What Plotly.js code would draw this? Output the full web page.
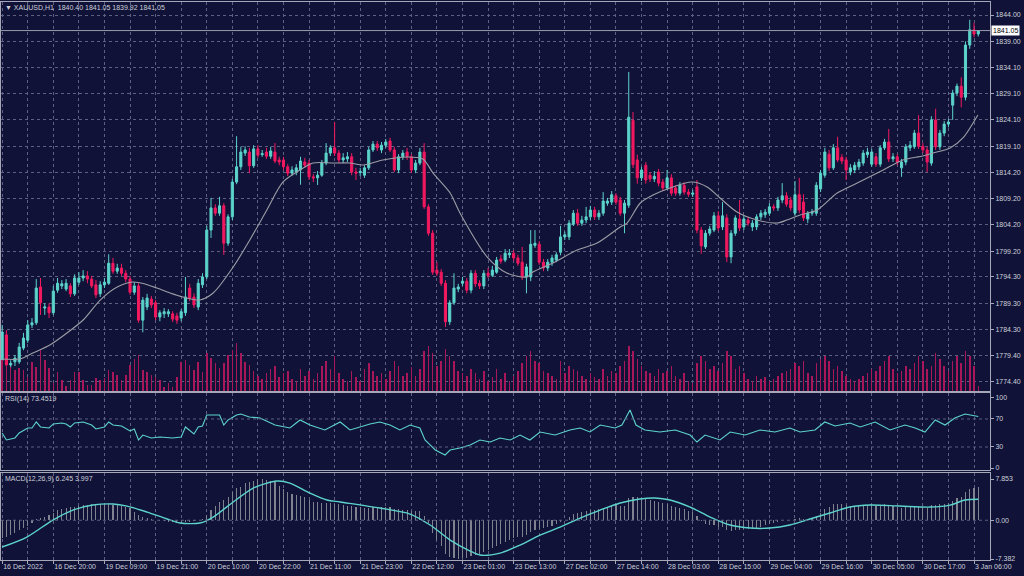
<!DOCTYPE html>
<html><head><meta charset="utf-8">
<script src="https://cdn.plot.ly/plotly-3.0.1.min.js"></script>
<style>html,body{margin:0;padding:0;background:#101238;}#chart{width:1024px;height:576px;}</style>
</head><body><div id="chart"></div>
<script>
const symbolName = "XAUUSD,H1";
const xLabels = ["16 Dec 2022","16 Dec 20:00","19 Dec 09:00","19 Dec 21:00","20 Dec 10:00","20 Dec 22:00","21 Dec 11:00","21 Dec 23:00","22 Dec 12:00","23 Dec 01:00","23 Dec 13:00","27 Dec 02:00","27 Dec 14:00","28 Dec 03:00","28 Dec 15:00","29 Dec 04:00","29 Dec 16:00","30 Dec 05:00","30 Dec 17:00","3 Jan 06:00"];
const barsPerLabel = 12;

const open = [
1778.5,1783.3,1777.6,1778.2,1778.2,1780.8,1782.3,1785.2,1785.6,1792.4,
1788.4,1788.6,1787.5,1791.8,1792.6,1792.0,1792.6,1791.1,1793.3,1794.1,
1794.5,1793.9,1792.8,1791.1,1792.8,1793.1,1796.9,1795.4,1796.0,1795.0,
1793.9,1791.4,1792.6,1786.1,1788.6,1790.1,1789.4,1786.7,1787.3,1787.3,
1787.3,1786.9,1786.5,1787.5,1792.2,1790.5,1788.6,1792.8,1794.3,1803.2,
1807.4,1806.4,1807.8,1800.7,1805.7,1812.3,1815.2,1817.8,1818.0,1815.4,
1818.6,1817.5,1818.0,1817.2,1818.0,1816.5,1816.5,1815.2,1814.0,1814.2,
1814.6,1816.1,1815.9,1813.3,1813.1,1813.6,1815.9,1817.8,1818.8,1817.8,
1816.5,1816.7,1817.1,1814.2,1814.1,1813.6,1815.0,1818.4,1819.5,1818.4,
1819.3,1820.1,1818.4,1814.6,1817.1,1818.0,1817.1,1814.6,1815.9,1818.0,
1807.6,1802.6,1795.6,1795.2,1793.1,1785.8,1789.4,1792.0,1793.1,1793.5,
1791.8,1795.0,1793.1,1792.6,1795.0,1794.6,1795.2,1797.7,1797.5,1798.5,
1798.8,1797.9,1797.1,1794.3,1794.3,1800.3,1800.5,1797.1,1796.0,1797.1,
1797.5,1799.0,1801.9,1801.9,1804.3,1806.4,1804.5,1805.1,1805.7,1807.0,
1805.7,1806.4,1808.3,1808.5,1809.7,1808.9,1806.4,1807.9,1824.0,1816.5,
1813.1,1815.5,1813.6,1812.9,1814.2,1812.3,1811.2,1813.1,1811.2,1810.2,
1811.7,1810.4,1810.0,1811.4,1803.2,1800.0,1802.6,1803.2,1805.9,1803.8,
1805.5,1798.1,1802.6,1805.3,1803.8,1805.1,1803.8,1803.8,1805.7,1806.1,
1806.4,1807.6,1807.4,1808.9,1809.7,1808.9,1806.4,1809.9,1808.5,1805.3,
1806.4,1806.4,1811.0,1813.6,1817.6,1815.0,1818.8,1817.0,1816.5,1814.2,
1814.6,1815.2,1815.9,1817.5,1815.7,1817.1,1815.7,1818.8,1819.9,1816.7,
1817.1,1815.0,1816.1,1818.8,1819.0,1821.6,1819.1,1818.4,1815.9,1824.1,
1819.0,1821.6,1823.3,1826.9,1829.2,1830.5,1828.4,1838.3,1841.2,1840.40];
const high = [
1785.2,1784.2,1778.5,1779.5,1781.8,1783.7,1786.1,1786.5,1793.9,1794.1,
1789.3,1789.3,1792.6,1794.1,1793.7,1793.9,1793.1,1794.8,1795.2,1795.6,
1795.4,1794.5,1793.7,1793.5,1794.1,1798.6,1797.9,1796.8,1796.8,1795.6,
1794.5,1793.3,1793.1,1790.5,1791.1,1790.7,1789.9,1788.0,1788.4,1788.2,
1787.8,1787.5,1788.2,1794.3,1793.0,1791.2,1793.9,1795.0,1804.0,1809.3,
1808.1,1809.5,1808.3,1806.2,1812.9,1821.0,1819.0,1819.1,1818.8,1819.3,
1819.3,1818.4,1818.8,1819.0,1819.7,1817.1,1817.1,1815.7,1815.3,1815.7,
1817.1,1816.9,1816.5,1813.8,1814.4,1816.5,1819.7,1819.3,1823.7,1818.4,
1817.8,1818.0,1817.8,1815.0,1815.0,1815.5,1819.0,1820.1,1820.1,1819.9,
1820.5,1820.7,1819.0,1817.6,1818.4,1818.8,1817.6,1816.5,1818.8,1819.7,
1808.1,1803.2,1797.1,1795.8,1793.7,1789.9,1795.0,1793.0,1794.3,1794.1,
1795.6,1795.6,1793.7,1795.6,1796.0,1796.4,1798.1,1798.5,1799.6,1799.6,
1799.4,1798.5,1800.0,1796.8,1803.2,1803.2,1801.1,1797.7,1797.7,1798.5,
1799.0,1804.0,1802.9,1805.1,1807.0,1807.2,1805.9,1807.6,1807.8,1807.6,
1807.0,1810.4,1809.3,1810.6,1810.2,1809.5,1808.9,1833.2,1825.6,1817.5,
1815.2,1816.1,1814.2,1814.4,1814.8,1812.9,1814.6,1813.8,1811.7,1812.3,
1812.3,1811.0,1810.8,1812.7,1803.8,1803.2,1804.0,1806.6,1806.8,1808.5,
1806.2,1803.2,1806.0,1808.9,1805.9,1805.7,1805.1,1806.2,1807.0,1807.2,
1808.3,1808.1,1809.5,1812.1,1810.4,1809.5,1812.5,1813.1,1810.0,1806.8,
1807.2,1812.3,1814.6,1818.8,1818.4,1819.5,1820.9,1817.6,1817.1,1815.7,
1816.1,1816.7,1818.4,1818.8,1818.6,1817.8,1819.3,1820.5,1822.4,1817.8,
1817.6,1816.7,1819.5,1820.1,1822.2,1825.0,1819.7,1819.0,1824.8,1826.2,
1822.2,1823.9,1824.3,1829.8,1831.0,1832.2,1839.0,1843.1,1842.5,1841.05];
const low = [
1778.2,1777.2,1777.0,1777.4,1777.8,1780.4,1781.8,1784.6,1785.2,1787.1,
1787.1,1786.5,1787.1,1791.3,1792.0,1791.6,1790.5,1790.7,1792.8,1793.5,
1793.1,1792.2,1790.3,1790.5,1792.2,1792.8,1794.9,1794.9,1794.5,1793.3,
1790.9,1790.9,1785.6,1783.8,1788.0,1788.4,1786.1,1785.9,1786.5,1786.7,
1785.75,1785.4,1785.9,1786.9,1789.7,1788.4,1788.0,1792.2,1793.9,1801.7,
1805.9,1805.9,1798.5,1800.2,1805.1,1811.9,1814.6,1817.25,1814.0,1815.0,
1816.9,1817.1,1816.7,1816.7,1815.9,1815.5,1814.6,1813.45,1813.5,1813.6,
1811.8,1815.0,1812.7,1812.3,1811.75,1813.3,1815.5,1817.25,1817.25,1815.9,
1815.9,1816.1,1813.6,1812.7,1813.45,1813.1,1814.6,1818.0,1818.2,1817.8,
1818.8,1818.0,1814.2,1814.0,1816.5,1816.5,1814.0,1814.0,1815.5,1807.2,
1802.1,1794.7,1794.5,1792.6,1784.8,1785.2,1789.0,1791.4,1792.6,1791.2,
1791.2,1792.4,1792.0,1792.0,1794.1,1794.3,1794.9,1796.8,1797.1,1797.9,
1797.3,1796.4,1793.7,1791.2,1793.5,1799.8,1796.6,1795.4,1795.4,1796.4,
1797.1,1798.4,1801.3,1801.3,1803.97,1804.0,1804.0,1804.5,1805.1,1805.1,
1805.1,1805.9,1807.8,1807.95,1808.0,1805.9,1802.6,1807.4,1814.97,1812.0,
1812.5,1812.0,1812.3,1812.3,1811.5,1810.6,1810.8,1809.7,1809.7,1809.7,
1809.9,1809.5,1809.5,1802.6,1798.7,1799.6,1802.1,1802.8,1803.0,1803.2,
1797.1,1796.9,1802.1,1803.0,1803.2,1804.0,1803.0,1803.2,1805.1,1805.5,
1805.9,1806.8,1806.8,1808.3,1807.6,1806.8,1805.9,1806.4,1804.9,1804.5,
1805.9,1805.9,1810.4,1813.1,1814.4,1814.6,1816.1,1815.7,1812.7,1813.6,
1814.0,1814.6,1815.4,1816.9,1815.2,1815.2,1815.2,1818.4,1816.1,1816.1,
1815.5,1813.3,1815.5,1818.2,1818.6,1818.6,1817.8,1814.2,1815.4,1818.4,
1818.4,1821.0,1822.7,1824.1,1828.6,1826.5,1827.8,1837.6,1839.8,1839.92];
const close = [
1783.85,1777.6,1777.9,1778.9,1781.0,1782.7,1785.2,1785.6,1792.2,1789.4,
1788.6,1787.5,1791.6,1793.1,1793.0,1793.1,1791.1,1794.1,1794.1,1794.5,
1793.9,1792.6,1790.9,1792.8,1793.3,1796.9,1795.4,1796.0,1795.0,1793.9,
1791.4,1792.6,1786.1,1789.9,1790.3,1789.0,1786.7,1787.5,1787.7,1787.7,
1786.3,1786.1,1787.7,1790.5,1790.3,1789.0,1793.1,1794.3,1803.2,1807.4,
1806.4,1807.8,1800.7,1805.7,1812.3,1815.2,1818.0,1818.4,1815.4,1818.6,
1817.4,1817.7,1817.2,1818.2,1816.3,1816.1,1815.2,1814.0,1814.6,1815.0,
1816.3,1815.5,1813.3,1813.1,1813.6,1815.9,1817.8,1818.8,1817.8,1816.5,
1816.9,1817.1,1814.2,1814.0,1814.3,1815.0,1818.4,1819.5,1818.8,1819.3,
1819.9,1818.4,1814.6,1817.1,1817.8,1817.1,1814.6,1815.9,1818.0,1807.6,
1802.6,1795.2,1795.0,1793.1,1785.8,1789.4,1792.2,1792.4,1793.5,1791.8,
1795.0,1793.0,1792.6,1795.0,1794.6,1795.6,1797.5,1797.3,1798.8,1798.8,
1797.9,1796.9,1794.3,1796.2,1800.5,1800.7,1797.1,1796.0,1797.1,1797.9,
1798.5,1801.9,1802.3,1804.5,1806.4,1804.5,1805.1,1805.7,1807.0,1805.7,
1806.4,1808.7,1808.7,1809.9,1808.5,1806.4,1808.3,1824.6,1815.6,1813.1,
1814.6,1812.7,1812.9,1813.4,1812.1,1811.2,1813.1,1810.2,1810.2,1811.7,
1810.4,1810.0,1810.2,1803.2,1800.2,1802.6,1803.4,1805.9,1803.6,1805.9,
1798.1,1802.6,1805.5,1803.6,1805.3,1804.5,1804.5,1805.7,1806.4,1806.6,
1807.6,1807.4,1808.9,1809.7,1808.1,1807.4,1809.9,1807.0,1805.5,1806.4,
1806.6,1811.7,1814.0,1818.0,1815.0,1818.8,1816.5,1816.3,1814.6,1815.0,
1815.5,1816.1,1817.8,1818.0,1818.0,1815.7,1818.8,1819.9,1816.7,1817.1,
1816.1,1816.1,1819.0,1819.3,1821.6,1819.1,1818.4,1816.1,1824.1,1819.0,
1821.6,1823.3,1823.7,1829.2,1830.5,1828.4,1838.3,1841.2,1840.4,1841.05];
const tickVolume = [
3100,2600,2400,2100,2300,2100,1400,2900,2400,4100,
3100,2300,800,1900,1100,500,1100,1900,1900,1100,
600,600,1300,1100,1300,2100,1900,1600,1100,1600,
2600,3200,3600,2100,1900,1600,1400,1100,400,800,
400,1400,2900,3100,2600,2100,2900,1900,3800,3300,
2800,2300,2800,3600,4100,4800,3800,2900,2600,2000,
1500,1200,1800,2200,2500,1400,1800,2000,1200,1000,
2200,1500,2000,1200,1800,2500,3000,2200,3500,1800,
1200,1000,2000,1400,1000,2200,2800,2000,1500,1800,
1200,2000,3000,2500,1500,1800,2400,1500,2200,4000,
4500,3800,2500,3000,4200,3500,3000,2000,1800,1500,
2200,1800,1200,2000,1000,1400,2200,1200,1800,1000,
1500,2000,2800,3500,4000,3000,2800,2000,1800,1500,
1200,3000,1800,2500,2200,2000,1500,1200,1800,1400,
1200,2200,1500,2000,1800,2500,3000,4500,4000,3200,
2500,2000,1800,1500,2200,1800,2000,2500,1500,1200,
1800,1000,800,2800,3500,3000,2200,2500,2000,2800,
4000,3500,2200,2500,1800,1200,1000,1500,1200,1400,
1000,1200,1500,1800,2000,2200,2800,2500,3000,1800,
1500,2800,3200,3500,3000,2200,2500,2000,1500,1200,
1000,1200,1500,1800,2200,2000,2500,3000,3500,2200,
1800,2000,2500,2200,2800,3500,3000,2200,2500,3800,
3200,2500,2000,3000,3500,2800,4000,3500,2500,500];

const maBar = [0,4.2,7.2,11.2,15.2,19.0,23.0,27.0,30.7,33.5,36.3,39.4,42.4,46.4,49.5,54.2,58.1,62.1,65.9,69.9,72.9,77.6,81.6,84.7,89.3,95.0,98.7,101.1,105.1,107.4,113.8,118.4,123.1,124.5,129.2,134.9,139.6,145.0,146.6,149.7,152.7,156.7,161.8,165.4,168.4,172.4,177.1,181.8,184.1,187.2,191.2,195.9,200.6,206.7,211.3,216.0,218.4,222.4,225.4,228.9];
const maValue = [1778.73,1778.73,1779.87,1781.39,1783.66,1786.13,1789.92,1792.39,1793.34,1792.96,1792.20,1791.25,1790.49,1789.92,1791.25,1796.19,1801.31,1807.0,1812.32,1814.59,1815.92,1815.92,1815.92,1815.54,1816.49,1817.06,1816.68,1814.0,1810.23,1806.43,1798.08,1795.05,1794.29,1795.24,1796.94,1799.41,1800.74,1803.78,1804.53,1808.33,1809.85,1811.18,1812.32,1811.37,1809.28,1806.62,1805.10,1804.53,1805.10,1806.05,1807.0,1810.23,1812.13,1814.59,1816.49,1817.25,1817.82,1818.77,1820.67,1825.03];

const rsiBar = [0,1,2,3,4,6,7,8,9,11,12,14,15,16,17,19,21,22,24,25,26,28,30,31,32,33,35,37,40,42,43,45,46,47,48,51,52,53,55,56,58,60.5,64,67.5,69.9,72.2,75.7,79.3,81.6,84,86.3,88.6,91,93.3,95.7,98,99.2,100.4,101.6,103.9,105.1,107.4,109.8,112.1,114.5,116.8,119.2,121.5,123.8,126.2,129.7,133.2,135.6,137.9,140.3,143.8,145.4,147.3,148.7,150.8,154.3,157.9,161.4,163,164.9,168.4,170.8,174.3,177.8,181.3,184.8,187.2,190.7,193,195.4,198.9,201.3,204.8,208.3,211.8,214.2,216.5,218.9,221.2,223.5,225.9,229];
const rsiValue = [50,40,41.4,42.9,50,57.1,57.1,65.7,58.6,57.1,62.9,64.3,62.9,58.6,64.3,65.7,61.4,55.7,58.6,65.7,61.4,60,52.9,55.7,40,47.1,42.9,44.3,42.9,44.3,58.6,48.6,58.6,60,75.7,75.7,61.4,68.6,75.7,77.1,72.9,71.4,61.4,57.1,68.6,61.4,54.3,65.7,54.3,58.6,62.9,65.7,61.4,54.3,61.4,57.1,40,32.9,25.7,18.6,25.7,28.6,32.9,40,37.1,42.9,40,47.1,40,51.4,47.1,54.3,57.1,51.4,61.4,57.1,61.4,82.9,61.4,54.3,51.4,54.3,47.1,37.1,47.1,40,51.4,47.1,54.3,51.4,57.1,51.4,54.3,65.7,60,64.3,58.6,65.7,54.3,61.4,57.1,51.4,68.6,61.4,71.4,77.1,73.4519];

const macdMain = [
-3.45,-3.13,-2.82,-2.5,-1.87,-1.55,-1.1,-0.6,0.17,0.36,
0.67,0.99,1.31,1.94,2.1,2.26,2.45,2.57,2.7,2.89,
2.89,3.0,3.02,3.02,3.02,3.02,2.95,2.89,2.75,2.57,
2.26,1.65,0.99,0.67,0.36,0.17,0.0,-0.1,-0.2,-0.3,
-0.4,-0.5,-0.5,-0.4,-0.3,-0.2,0.0,0.3,0.99,2.0,
2.8,3.5,3.84,4.47,5.4,6.07,6.4,7.0,7.2,7.52,
7.78,7.853,7.7,7.52,7.2,6.5,5.9,5.3,5.0,4.8,
4.6,4.4,3.9,3.4,3.4,3.3,3.3,3.2,3.0,3.0,
2.9,2.8,2.7,2.6,2.5,2.4,2.4,2.5,2.5,2.5,
2.5,2.5,2.2,2.1,2.0,2.0,1.8,1.7,1.8,0.8,
-0.6,-2.5,-3.8,-4.9,-6.4,-7.0,-7.2,-7.382,-7.2,-7.1,
-6.8,-6.6,-6.4,-6.0,-5.7,-5.3,-4.9,-4.5,-4.1,-3.7,
-3.4,-3.2,-3.2,-2.9,-2.2,-1.8,-1.6,-1.5,-1.3,-1.1,
-0.8,-0.3,0.1,0.6,1.1,1.3,1.5,1.7,1.9,2.0,
2.1,2.4,2.6,2.8,2.9,2.8,2.8,4.2,4.5,4.4,
4.3,4.1,3.9,3.7,3.5,3.2,3.1,2.8,2.5,2.3,
2.1,1.8,1.6,0.8,-0.2,-0.7,-1.0,-1.0,-1.2,-1.2,
-1.9,-2.0,-1.8,-1.8,-1.7,-1.6,-1.6,-1.4,-1.2,-1.0,
-0.8,-0.6,-0.3,0.0,0.1,0.1,0.3,0.4,0.2,0.2,
0.2,0.8,1.4,2.2,2.5,3.0,3.1,3.1,2.9,2.8,
2.7,2.7,2.8,2.9,2.9,2.8,2.9,3.0,2.9,2.7,
2.6,2.4,2.5,2.5,2.7,2.7,2.6,2.3,2.9,2.9,
3.0,3.1,3.2,3.7,4.2,4.4,5.3,6.0,6.2,6.245];
const signalBar = [0,5.8,11.9,16.6,21.3,26.0,29.3,34.0,38.7,41.7,46.4,49.5,54.2,58.9,64.5,67.5,72.2,76.2,79.3,88.6,95.7,100.4,105.1,109.8,112.1,116.8,121.5,126.2,130.9,135.6,140.3,145.0,149.6,153.2,156.7,161.4,166.1,170.8,175.5,180.1,184.8,189.5,194.2,198.9,203.6,210.6,217.7,222.4,225.9,229];
const signalValue = [-5.10,-3.20,0.04,1.94,2.89,3.09,2.70,1.56,0.23,-0.53,-0.53,0.61,3.47,6.13,7.46,7.08,5.18,3.85,3.47,2.32,1.18,-0.91,-3.77,-5.87,-6.63,-6.25,-4.73,-2.83,-1.30,0.42,1.94,3.28,4.04,4.23,3.85,2.51,0.61,-0.91,-1.49,-1.49,-0.91,0.23,1.37,2.51,2.89,2.70,2.51,2.89,3.85,3.997];

const priceTicks = [1844.00,1839.00,1834.10,1829.10,1824.10,1819.10,1814.20,1809.20,1804.20,1799.20,1794.30,1789.30,1784.30,1779.40,1774.40];
const rsiTicks = [100,70,30,0];
const rsiLevels = [70,30];
const macdTicks = [7.853,0,-7.382];
const bidPrice = 1841.05;

const C_UP = '#5cd4cb', C_DN = '#f2195f', C_BG = '#101238', C_GRID = '#5d6080', C_TXT = '#cdd0d8', C_LINE = '#a6a8b8';
const FONT = {family:'"Liberation Sans", Arial, sans-serif', size:7, color:C_TXT};

const n = close.length;
const bars = close.map((_, i) => i);
const last = n - 1;

const gridBars = [], gridText = [];
for (let k = 0; k <= (xLabels.length - 1) * 2; k++) {
  gridBars.push(k * barsPerLabel / 2);
  gridText.push(k % 2 === 0 ? xLabels[k / 2] : '');
}

const traces = [
  {type:'bar', x:bars, y:tickVolume, xaxis:'x', yaxis:'y4', marker:{color:'#a8175a', line:{width:0}}, width:0.36, hoverinfo:'skip'},
  {type:'candlestick', x:bars, open:open, high:high, low:low, close:close, xaxis:'x', yaxis:'y',
   increasing:{line:{color:C_UP, width:1}, fillcolor:C_UP},
   decreasing:{line:{color:C_DN, width:1}, fillcolor:C_DN}, whiskerwidth:0, hoverinfo:'skip'},
  {type:'scatter', mode:'lines', x:maBar, y:maValue, xaxis:'x', yaxis:'y', line:{color:'#9d9da6', width:1.1, shape:'spline', smoothing:0.8}, hoverinfo:'skip'},
  {type:'scatter', mode:'lines', x:rsiBar, y:rsiValue, xaxis:'x2', yaxis:'y2', line:{color:C_UP, width:1.1}, hoverinfo:'skip'},
  {type:'bar', x:bars, y:macdMain, xaxis:'x3', yaxis:'y3', marker:{color:'#80828f', line:{width:0}}, width:0.26, hoverinfo:'skip'},
  {type:'scatter', mode:'lines', x:signalBar, y:signalValue, xaxis:'x3', yaxis:'y3', line:{color:C_UP, width:1.4, shape:'spline', smoothing:0.8}, hoverinfo:'skip'}
];

const xr = [-0.27, 231.75];
const xbase = {range:xr, tickmode:'array', tickvals:gridBars, ticktext:gridText, showgrid:true, gridcolor:C_GRID, griddash:'dot', gridwidth:1,
  showline:true, mirror:true, linecolor:C_LINE, linewidth:1, zeroline:false, fixedrange:true};
const ybase = {side:'right', showline:true, mirror:true, linecolor:C_LINE, linewidth:1, zeroline:false, ticks:'outside', ticklen:3, tickcolor:C_LINE,
  tickfont:FONT, gridcolor:C_GRID, griddash:'dot', gridwidth:1, fixedrange:true};

const P = y => (560 - y) / 558;
const layout = {
  width:1024, height:576, paper_bgcolor:C_BG, plot_bgcolor:C_BG, showlegend:false, bargap:0,
  margin:{l:1, r:34, t:2, b:16}, font:FONT,
  xaxis: Object.assign({}, xbase, {anchor:'y', showticklabels:false, rangeslider:{visible:false}}),
  xaxis2: Object.assign({}, xbase, {anchor:'y2', matches:'x', showticklabels:false}),
  xaxis3: Object.assign({}, xbase, {anchor:'y3', matches:'x', showticklabels:true, tickfont:FONT, ticks:'outside', ticklen:3, tickcolor:C_LINE, ticklabelposition:'outside right'}),
  yaxis: Object.assign({}, ybase, {domain:[P(391), 1], range:[1772.66, 1846.47], tickmode:'array', tickvals:priceTicks, ticktext:priceTicks.map(v => v.toFixed(2)), showgrid:true}),
  yaxis4: {overlaying:'y', range:[0, 38900], visible:false, fixedrange:true},
  yaxis2: Object.assign({}, ybase, {domain:[P(470), P(393)], range:[-2.86, 107.1], tickmode:'array', tickvals:rsiTicks, ticktext:rsiTicks.map(String), showgrid:false}),
  yaxis3: Object.assign({}, ybase, {domain:[0, P(473)], range:[-7.572, 8.996], tickmode:'array', tickvals:macdTicks, ticktext:macdTicks.map(v => v === 0 ? '0.00' : String(v)), showgrid:false}),
  shapes: [
    ...rsiLevels.map(v => ({type:'line', xref:'x2 domain', yref:'y2', x0:0, x1:1, y0:v, y1:v, line:{color:C_GRID, width:1, dash:'dot'}})),
    {type:'line', xref:'x3 domain', yref:'y3', x0:0, x1:1, y0:0, y1:0, line:{color:C_GRID, width:1, dash:'dot'}},
    {type:'line', xref:'x domain', yref:'y', x0:0, x1:1, y0:bidPrice, y1:bidPrice, line:{color:'#9a9cab', width:1}}
  ],
  annotations: [
    {xref:'paper', yref:'paper', x:0.002, y:P(7), xanchor:'left', yanchor:'middle', showarrow:false, font:FONT,
     text:'▼ ' + symbolName + '  ' + open[last].toFixed(2) + ' ' + high[last].toFixed(2) + ' ' + low[last].toFixed(2) + ' ' + close[last].toFixed(2)},
    {xref:'paper', yref:'paper', x:0.002, y:P(399), xanchor:'left', yanchor:'middle', showarrow:false, font:FONT,
     text:'RSI(14) ' + rsiValue[rsiValue.length - 1].toFixed(4)},
    {xref:'paper', yref:'paper', x:0.002, y:P(479), xanchor:'left', yanchor:'middle', showarrow:false, font:FONT,
     text:'MACD(12,26,9) ' + macdMain[last].toFixed(3) + ' ' + signalValue[signalValue.length - 1].toFixed(3)},
    {xref:'paper', yref:'y', x:1, xshift:1, y:bidPrice, xanchor:'left', yanchor:'middle', showarrow:false,
     font:{family:FONT.family, size:7, color:'#000000'}, bgcolor:'#ffffff', borderpad:1, text:bidPrice.toFixed(2)}
  ]
};

Plotly.newPlot('chart', traces, layout, {staticPlot:true, displayModeBar:false});
</script>
</body></html>
